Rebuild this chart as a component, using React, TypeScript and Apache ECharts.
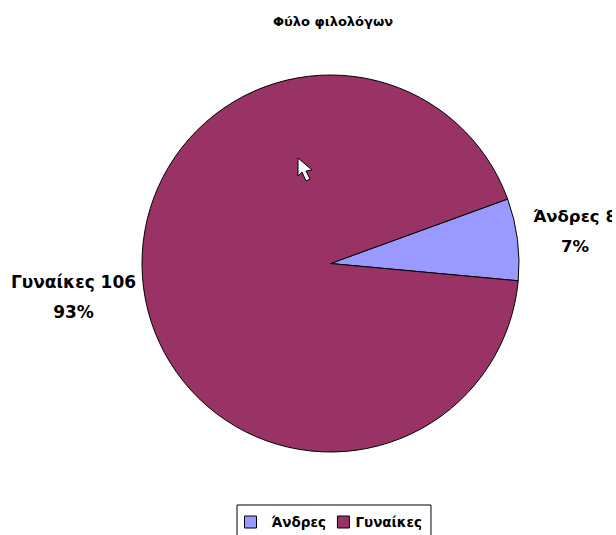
import React, { useEffect, useRef } from "react";
import * as echarts from "echarts";

const chartTitle = "Φύλο φιλολόγων";
const categories = ["Άνδρες", "Γυναίκες"];
const values = [8, 106];
const colors = ["#9999FF", "#993366"];
const font = "'DejaVu Sans', sans-serif";
const cursorPoints = [[298, 158], [298, 176], [302, 172], [306, 181], [310, 179], [306, 171], [312, 170]];

export default function App() {
  const ref = useRef<HTMLDivElement>(null);
  useEffect(() => {
    document.body.style.margin = "0";
    document.body.style.background = "#fff";
    const chart = echarts.init(ref.current!, null, { renderer: "svg" });
    chart.setOption({
      animation: false,
      backgroundColor: "#ffffff",
      title: {
        text: chartTitle,
        left: 328,
        top: 10,
        textAlign: "center",
        textStyle: { fontFamily: font, fontSize: 13, fontWeight: "bold", color: "#000" },
      },
      legend: {
        data: [
          { name: categories[0], textStyle: { padding: [0, 0, 0, 10] } },
          { name: categories[1], textStyle: { padding: [0, 0, 0, 1] } },
        ],
        left: 237,
        top: 505,
        width: 194,
        orient: "horizontal",
        padding: [10, 9, 24, 7],
        itemGap: 11,
        itemWidth: 12,
        itemHeight: 12,
        icon: "rect",
        selectedMode: false,
        borderColor: "#000",
        borderWidth: 1,
        textStyle: { fontFamily: font, fontSize: 13.5, fontWeight: "bold", color: "#000" },
        itemStyle: { borderColor: "#000", borderWidth: 1 },
      },
      series: [
        {
          type: "pie",
          center: [330.5, 263.5],
          radius: [0, 188.5],
          startAngle: 20,
          clockwise: true,
          silent: true,
          data: categories.map((name, i) => ({
            name,
            value: values[i],
            itemStyle: { color: colors[i] },
            label: { fontSize: i === 0 ? 16.5 : 17 },
          })),
          itemStyle: { borderColor: "#000", borderWidth: 1 },
          emphasis: { disabled: true },
          label: {
            show: true,
            position: "outside",
            formatter: (p: any) => `${p.name} ${p.value}\n${Math.round(p.percent)}%`,
            fontFamily: font,
            fontWeight: "bold",
            color: "#000",
            align: "center",
            lineHeight: 30,
            overflow: "none",
          },
          labelLine: { show: false },
          labelLayout: (p: any) =>
            p.dataIndex === 0
              ? { x: 575, y: 231, align: "center", verticalAlign: "middle", hideOverlap: false }
              : { x: 73.5, y: 297, align: "center", verticalAlign: "middle", hideOverlap: false },
        },
      ],
      graphic: [
        {
          type: "polygon",
          silent: true,
          z: 100,
          shape: { points: cursorPoints },
          style: { fill: "#ffffff", stroke: "#000000", lineWidth: 1 },
        },
        {
          type: "rect",
          silent: true,
          z: 100,
          shape: { x: 612, y: 0, width: 4, height: 535 },
          style: { fill: "#ffffff" },
        },
      ],
    });
    return () => chart.dispose();
  }, []);
  return <div ref={ref} style={{ width: 616, height: 535 }} />;
}
